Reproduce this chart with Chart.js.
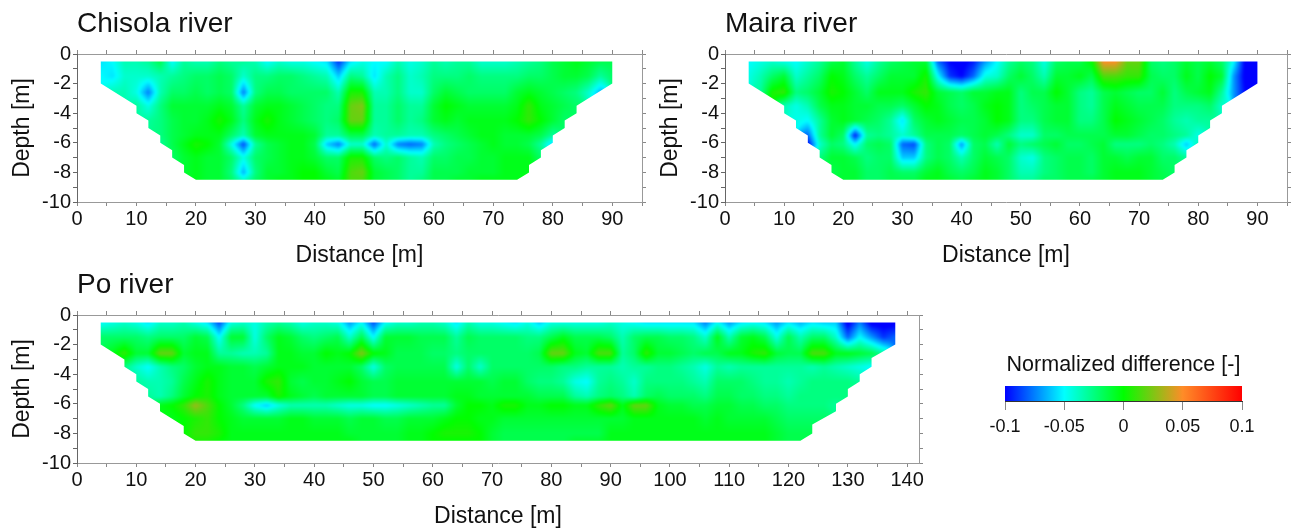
<!DOCTYPE html>
<html>
<head>
<meta charset="utf-8">
<script src="https://cdn.jsdelivr.net/npm/chart.js@4"></script>
<style>
body { margin: 0; background: #fff; width: 1292px; height: 529px; overflow: hidden; position: relative; }
canvas { position: absolute; }
</style>
</head>
<body>
<canvas id="chisola" width="647" height="268" style="left:0;top:0"></canvas>
<canvas id="maira" width="644" height="268" style="left:648px;top:0"></canvas>
<canvas id="po" width="939" height="268" style="left:0;top:261px"></canvas>
<canvas id="scale" width="332" height="110" style="left:960px;top:340px"></canvas>
<script>
const _ = null; // no measurement at this position

// depth of each data row, m
const depths = [-0.5, -1.5, -2.6, -3.5, -4.5, -5.5, -6.1, -7, -8, -8.5];

const distances90 = [4,6,8,10,12,14,16,18,20,22,24,26,28,30,32,34,36,38,40,42,44,46,48,50,52,54,56,58,60,62,64,66,68,70,72,74,76,78,80,82,84,86,88,90];
const distances138 = [4,6,8,10,12,14,16,18,20,22,24,26,28,30,32,34,36,38,40,42,44,46,48,50,52,54,56,58,60,62,64,66,68,70,72,74,76,78,80,82,84,86,88,90,92,94,96,98,100,102,104,106,108,110,112,114,116,118,120,122,124,126,128,130,132,134,136,138];

// outline of the sections (distance, depth)
const outline90X = [4,4,10,10,12,12,14,14,16,16,18,18,20,74,76,76,78,78,80,80,82,82,84,84,90,90];
const outline90Y = [-0.5,-2,-3.5,-4,-4.5,-5,-5.5,-6,-6.5,-7,-7.5,-8,-8.5,-8.5,-8,-7.5,-7,-6.5,-6,-5.5,-5,-4.5,-4,-3.5,-2,-0.5];
const outline138X = [4,4,8,8,10,10,12,12,14,14,18,18,20,122,124,124,128,128,130,130,132,132,134,134,138,138];
const outline138Y = [-0.5,-2,-3,-3.5,-4,-4.5,-5,-5.5,-6,-6.5,-7.5,-8,-8.5,-8.5,-8,-7.4,-6.5,-6,-5.5,-5,-4.5,-4,-3.5,-2.9,-2,-0.5];

// values below are in hundredths of normalized difference
const valueUnit = 0.01;

const chisolaValues = [
  [-5.5,-5,-3.5,-3.5,-3,-1.5,-5,-3,-3.5,-3.5, -2.5,-3,-3,-3.5,-5,-4,-4.5,-4.5,-5,-5.5, -9,-5.5,-4.5,-5,-5,-3.5,-4.5,-4,-3,-3.5, -3,-3,-4,-4,-4,-3.5,-3,-2.5,-1.5,-1, -0.5,-1,-1.5,-1.5],
  [-5,-5.5,-4,-4,-4,-3.5,-3,-2.5,-2,-2, -1.5,-2,-4,-2.5,-2.5,-2,-2,-2.5,-3,-3.5, -6,-2.5,-3,-5.5,-3.5,-2.5,-4,-3.5,-2.5,-2.5, -2.5,-2,-2.5,-2.5,-2.5,-2.5,-2,-2,-1.5,-1, -1,-1.5,-3,-2],
  [_,-3.5,-3.5,-4.5,-7.5,-3.5,-2,-2,-1.5,-2, -1.5,-2,-7.5,-2.5,-1.5,-1.5,-2,-2,-2,-2, -3.5,0.5,0.5,-3.5,-3.5,-2.5,-4,-4,-2,-1, -1.5,-2,-2,-2,-2,-1,-0.5,-1,-1.5,-2, -2.5,-4,-6.5,_],
  [_,_,_,-3,-4.5,-2.5,-1,-1,-1,-1, -0.5,-1,-3,-1,-0.5,-0.5,-1,-1.5,-2,-2.5, -2.5,2,2.5,-3,-3,-2,-3,-3,-1,0, -0.5,-1,-1,-1,-1,-0.5,1,-0.5,-1,-1.5, -2,_,_,_],
  [_,_,_,_,-3,-2.5,-1.5,-1,-1,-0.5, 0.5,-0.5,-2.5,-0.5,0.5,-0.5,-1,-1.5,-2,-2.5, -2,2,2,-3,-3,-2,-3,-2.5,-1,-0.5, -1,-0.5,-0.5,-0.5,-0.5,0,1,0,-1,-2, _,_,_,_],
  [_,_,_,_,_,-2.5,-1.5,-1,-0.5,-0.5, -0.5,-2,-3.5,-1,-0.5,-0.5,-0.5,-0.5,-1,-3, -3,-1.5,-1.5,-3.5,-3,-3,-3.5,-3.5,-2.5,-2, -1.5,-1,-0.5,-0.5,-1,-1,-1,-1.5,-3,_, _,_,_,_],
  [_,_,_,_,_,-3,-1.5,-0.5,0.5,0, -1,-4.5,-8.5,-3,-1.5,-1,-0.5,-0.5,-1.5,-6, -7.5,-4,-4,-8,-4,-7.5,-8,-7.5,-3.5,-2.5, -2,-1.5,-1,-0.5,-1,-1,-1.5,-3,-6,_, _,_,_,_],
  [_,_,_,_,_,_,-2,-1,-0.5,-1, -1,-2,-4.5,-2,-1.5,-1,-0.5,-0.5,-1,-2, -2,0.5,0.5,-2,-2.5,-2,-3,-3.5,-2,-2, -1.5,-1.5,-1,-1,-0.5,-0.5,-0.5,-2,_,_, _,_,_,_],
  [_,_,_,_,_,_,_,-1,-0.5,-1, -1,-2.5,-6.5,-2.5,-1,-1,-0.5,0,0,-1, -1.5,1.5,2,-1,-1.5,-2,-3,-3,-1.5,-1.5, -1.5,-1,-1,-1,-0.5,-0.5,-0.5,_,_,_, _,_,_,_],
  [_,_,_,_,_,_,_,_,-0.5,-1, -1,-2,-4,-2,-1,-0.5,-0.5,0,0,-0.5, -1,1.5,1.5,-1,-1.5,-2,-3,-2.5,-1.5,-1.5, -1,-1,-0.5,-0.5,-0.5,-0.5,_,_,_,_, _,_,_,_]
];

const mairaValues = [
  [-5,-4.5,-4,-4.5,-5,-4,-3,-1.5,-1,-3, -4.5,-3,-2,-1.5,-1,-1,-8,-10,-10.5,-9.5, -7,-5,-3,-2,-2.5,-4.5,-2,-1.5,-1.5,0, 5,5,2,2,-2,-2.5,-2,-1,-1.5,-1, -2,-5,-10.5,-10.5],
  [-4.5,-3.5,-2,-1,-4,-3,-2,0,-0.5,-2, -3,-2,-1,-1,-1,0.5,-5,-9,-10,-8, -4.5,-4,-2,-1,-2,-3.5,-1,-1,-0.5,-1.5, 1.5,1.5,1,1,-1.5,-2,-2,-0.5,-1.5,0, -1,-7,-10.5,-10.5],
  [_,-3,0.5,1,-2.5,-2,-1,0.5,0,-1, -2,-0.5,-0.5,-0.5,0.5,1,-1,-1.5,-2,-1, -1,-0.5,-0.5,-2.5,-1.5,-1.5,0,-1,-2.5,-3, -1.5,-1,-1.5,-2,-2,-1,-2.5,-1.5,-1,-0.5, -3,-7,-10,_],
  [_,_,_,-3.5,-4.5,-3.5,-1.5,-0.5,-0.5,-1, -1,-1.5,-1.5,-2,-1,0,-0.5,-1.5,-2,-1.5, -0.5,0,-0.5,-2.5,-2,-1.5,-1,-1,-2.5,-3, -1.5,-0.5,-1,-1.5,-1.5,-1.5,-2.5,-2.5,-2.5,-2, -4,_,_,_],
  [_,_,_,_,-4.5,-5,-3,-1,-0.5,-1, -1.5,-2,-3,-5.5,-2,-1,-0.5,-1,-1.5,-1.5, -1,0,-0.5,-2.5,-2.5,-1.5,-1,-1,-2.5,-2.5, -1.5,0,-0.5,-1,-1.5,-2,-3,-3.5,-3,-3, _,_,_,_],
  [_,_,_,_,_,-8,-3,-1,-2,-9.5, -3,-2.5,-3,-4,-3,-1.5,-1.5,-1.5,-2,-1.5, -1,-1.5,-2.5,-4,-4,-2,-2,-1.5,-1.5,-1.5, -1.5,-1,-1,-1.5,-2,-2,-2.5,-3,-4.5,_, _,_,_,_],
  [_,_,_,_,_,-10,-4,-2,-2.5,-5, -2,-1.5,-2,-8,-8.5,-2.5,-1.5,-2,-7,-2, -1.5,-3.5,-1,-2.5,-2,-1.5,-1,-2,-2,-1.5, -1,-2.5,-2.5,-2.5,-2,-2.5,-3.5,-6,-3.5,_, _,_,_,_],
  [_,_,_,_,_,_,-2.5,-1,-1,-1.5, -2.5,-2,-2,-6,-6,-2.5,-1.5,-2,-3.5,-2, -1,-1.5,-2,-4,-4.5,-2.5,-2,-1.5,-1.5,-2, -1,-1,-1.5,-1,-1,-2,-2,-3,_,_, _,_,_,_],
  [_,_,_,_,_,_,_,-1.5,-1,-1, -2,-2,-1.5,-2,-2,-1,-0.5,-1.5,-2,-1.5, -0.5,-1,-2,-3.5,-3.5,-2.5,-2,-1.5,-1.5,-2, -1,-0.5,-0.5,-0.5,-1,-1.5,-2,_,_,_, _,_,_,_],
  [_,_,_,_,_,_,_,_,-1,-1, -2,-2,-1.5,-1.5,-1.5,-0.5,-0.5,-1,-1.5,-1, -0.5,-1,-2,-3,-3,-2,-2,-1.5,-1.5,-1.5, -1,-0.5,-0.5,-0.5,-1,-1.5,_,_,_,_, _,_,_,_]
];

const poValues = [
  [-5,-4.5,-4,-4.5,-5.5,-4,-4,-3.5,-4.5,-5.5,
   -8.5,-4.5,-4,-4.5,-3.5,-3,-3.5,-4.5,-4,-4,
   -4.5,-7,-5,-8.5,-5,-4,-4,-3.5,-3.5,-4,
   -5.5,-3.5,-4.5,-4.5,-5,-5.5,-4.5,-6,-4.5,-4.5,
   -4.5,-4.5,-4.5,-4,-4.5,-5,-5.5,-5.5,-5.5,-5.5,
   -5.5,-7.5,-5,-7,-5.5,-5,-5.5,-7,-5.5,-6.5,
   -5.5,-6,-6,-10.5,-7.5,-10.5,-10.5,-10.5],
  [-2,-2,-2,-2,-2.5,-2,-2,-2,-1,-1.5,
   -5,-1,-1,-4.5,-2,-0.5,-1,-2,-2.5,-2,
   -1.5,-4,-1.5,-5,-1,-1,-1,-1.5,-1.5,-1.5,
   -3,-1.5,-2,-2,-2,-2,-2.5,-2.5,-1.5,-0.5,
   -1.5,-1.5,-1.5,-2,-3.5,-2,-1.5,-1.5,-2,-2,
   -2.5,-4,-0.5,-3.5,-1,-0.5,-1.5,-4.5,-1.5,-3.5,
   -2,-2,-4,-8,-5,-7,-9,-8],
  [_,-0.5,1,-1,-1,2,2,-1,-0.5,-0.5,
   -3,-3,-3.5,-3.5,-3,-0.5,-0.5,-1,-1,0,
   -0.5,0,2.5,0,-0.5,-1.5,-1.5,-1.5,-2,-2,
   -2.5,-2,-2,-2,-2,-2,-2,-1.5,2,2,
   -0.5,-1,1.5,1.5,-3,-2,1,-1,-1,-1.5,
   -2,-1.5,-1.5,-0.5,-0.5,0.5,1,-1,-1.5,-1.5,
   1.5,1.5,-0.5,-0.5,-1,-1.5,-3,_],
  [_,_,-2.5,-4,-5,-3.5,-2.5,-2,-1,-0.5,
   -0.5,-1,-1,-1.5,-1,-0.5,-0.5,-0.5,-1,-1,
   -1,-1,-2,-4.5,-2,-1.5,-1.5,-1.5,-1.5,-1.5,
   -4.5,-2,-4,-2,-2,-2,-2,-2,-2,-2.5,
   -2.5,-3,-3,-3,-3.5,-3,-3,-2.5,-2.5,-3,
   -3.5,-4.5,-3,-3.5,-3,-3,-3,-3,-3,-3,
   -3.5,-3,-3.5,-4,-4.5,-5,_,_],
  [_,_,_,-3,-3.5,-3.5,-3,-1.5,-0.5,0.5,
   -0.5,-1,-1,-1,0.5,1,-1,-1.5,-1,-1,
   -0.5,0,-1,-1.5,-1.5,-1,-1,-1,-1,-1,
   -1,-1,-1,-1.5,-1,-1,-2,-2.5,-2.5,-3,
   -4.5,-5,-3,-2.5,-3,-4,-2.5,-2.5,-2.5,-2.5,
   -3,-3.5,-2,-2,-2,-2.5,-3,-3,-3.5,-3,
   -2.5,-2.5,-2.5,-2.5,-3,_,_,_],
  [_,_,_,_,-3,-3.5,-2.5,-1,0,0.5,
   -0.5,-1,-1,-1,-1,0.5,-0.5,-1,-1.5,-1,
   -1,-1,-1,-1.5,-1.5,-1,-1,-1,-1,-1,
   -0.5,-0.5,-1,-1,-1,-1,-1,-1.5,-1.5,-1.5,
   -3,-3.5,-2.5,-2,-2.5,-3.5,-2,-1.5,-2,-2,
   -2,-2.5,-1.5,-1.5,-2,-2,-2.5,-2.5,-3,-2.5,
   -2.5,-2.5,-2.5,-2.5,_,_,_,_],
  [_,_,_,_,_,-0.5,0,1,3,1.5,
   0,-1,-2.5,-5,-6,-4.5,-3.5,-3.5,-3.5,-3.5,
   -4,-4.5,-4.5,-5,-5,-4.5,-4,-3.5,-3,-3,
   -1,0,0,-0.5,0.5,0.5,-0.5,-0.5,0,0,
   -0.5,-0.5,1,2,-0.5,2,2,-0.5,-1,-1,
   -1.5,-1.5,-1,-1,-1.5,-1.5,-2,-2,-2.5,-2.5,
   -2.5,-2.5,-3,_,_,_,_,_],
  [_,_,_,_,_,_,-0.5,0,0.5,1,
   0,-0.5,-1,-1,-1,-1,-0.5,-0.5,-1,-1,
   -1,-1.5,-1,-1,-1.5,-1.5,-1,-1,-1,-0.5,
   0,0,-0.5,-0.5,-1,-1,-1,-1,-1,-1,
   -1,-1,-1,-1,-1,-0.5,-0.5,-0.5,-0.5,-0.5,
   -0.5,-1,-0.5,-1,-1,-1,-1,-1.5,-2,-2,
   -2,-2,_,_,_,_,_,_],
  [_,_,_,_,_,_,_,0,1,1,
   0.5,-0.5,-0.5,-0.5,-0.5,-0.5,-0.5,-0.5,-0.5,-0.5,
   -0.5,-1,-1,-1,-1,-1,-0.5,-0.5,0,0.5,
   0.5,0.5,0,-1,-1.5,-1.5,-1.5,-1.5,-1.5,-1.5,
   -1.5,-1.5,-1.5,-0.5,-0.5,-0.5,-0.5,-0.5,-0.5,-0.5,
   -0.5,-0.5,-0.5,-0.5,-0.5,-0.5,-0.5,-1,-1.5,-1.5,
   -1.5,_,_,_,_,_,_,_],
  [_,_,_,_,_,_,_,_,0.5,0.5,
   0,-0.5,-0.5,-0.5,-0.5,-0.5,-0.5,-0.5,-0.5,-0.5,
   -0.5,-0.5,-1,-1,-1,-1,-0.5,-0.5,0,0,
   0,0,0,-1,-1.5,-1.5,-1.5,-1.5,-1.5,-1.5,
   -1,-1,-1,-0.5,-0.5,-0.5,-0.5,-0.5,-0.5,-0.5,
   -0.5,-0.5,-0.5,-0.5,-0.5,-0.5,-0.5,-1,-1.5,-1.5,
   _,_,_,_,_,_,_,_]
];

// colour bar
const colorValues = [-0.1, -0.05, 0, 0.05, 0.1];
const colorStops = [[0,0,255], [0,255,255], [0,255,0], [255,140,40], [255,0,0]];
const scaleLabels = ['-0.1', '-0.05', '0', '0.05', '0.1'];

const fontFamily = '"Liberation Sans", Arial, sans-serif';
const textColor = '#111';
Chart.defaults.font.family = fontFamily;
Chart.defaults.color = textColor;
Chart.defaults.animation = false;

function colorFor(v) {
    if (v <= colorValues[0]) return colorStops[0];
    for (let i = 1; i < colorValues.length; i++) {
        if (v <= colorValues[i]) {
            const t = (v - colorValues[i - 1]) / (colorValues[i] - colorValues[i - 1]);
            const a = colorStops[i - 1], b = colorStops[i];
            return [a[0] + (b[0] - a[0]) * t, a[1] + (b[1] - a[1]) * t, a[2] + (b[2] - a[2]) * t];
        }
    }
    return colorStops[colorStops.length - 1];
}

function findCell(list, v) {
    // list may run up or down, returns lower index and fraction
    const up = list[1] > list[0];
    for (let i = 0; i < list.length - 1; i++) {
        const hit = up ? v <= list[i + 1] : v >= list[i + 1];
        if (hit) return [i, (v - list[i]) / (list[i + 1] - list[i])];
    }
    return [list.length - 2, 1];
}

// paints the section from its data through the chart's scales
const sectionPlugin = {
    id: 'section',
    beforeDatasetsDraw(chart, args, opts) {
        const { xs, rows, outlineX, outlineY } = opts;
        const area = chart.chartArea;
        const sx = chart.scales.x, sy = chart.scales.y;
        const w = Math.ceil(area.width), h = Math.ceil(area.height);
        const off = document.createElement('canvas');
        off.width = w; off.height = h;
        const octx = off.getContext('2d');
        const img = octx.createImageData(w, h);
        for (let py = 0; py < h; py++) {
            const d = sy.getValueForPixel(area.top + py + 0.5);
            const [r, fr] = findCell(depths, d);
            for (let px = 0; px < w; px++) {
                const x = sx.getValueForPixel(area.left + px + 0.5);
                const [c, fc] = findCell(xs, x);
                const corners = [
                    [rows[r][c], (1 - fr) * (1 - fc)], [rows[r][c + 1], (1 - fr) * fc],
                    [rows[r + 1][c], fr * (1 - fc)], [rows[r + 1][c + 1], fr * fc]
                ];
                let sum = 0, wsum = 0;
                corners.forEach(([v, wt]) => { if (v !== null) { sum += v * wt; wsum += wt; } });
                if (wsum <= 0) continue;
                const col = colorFor(sum / wsum * valueUnit);
                const k = (py * w + px) * 4;
                img.data[k] = col[0]; img.data[k + 1] = col[1]; img.data[k + 2] = col[2]; img.data[k + 3] = 255;
            }
        }
        octx.putImageData(img, 0, 0);
        const ctx = chart.ctx;
        ctx.save();
        ctx.beginPath();
        outlineX.forEach((x, i) => {
            const px = sx.getPixelForValue(x), py = sy.getPixelForValue(outlineY[i]);
            if (i === 0) ctx.moveTo(px, py); else ctx.lineTo(px, py);
        });
        ctx.closePath();
        ctx.clip();
        ctx.filter = 'blur(0.8px)'; // the source picture is a soft scan
        ctx.drawImage(off, area.left, area.top);
        ctx.restore();
    }
};

function tickGrid(color) {
    return { drawOnChartArea: false, drawTicks: true, tickLength: 4, tickColor: color, color: color };
}

function makeSection(id, title, xs, rows, outlineX, outlineY, xMax, rightGap) {
    const points = [];
    rows.forEach((row, r) => row.forEach((v, c) => {
        if (v !== null) points.push({ x: xs[c], y: depths[r], v: v * valueUnit });
    }));
    return new Chart(document.getElementById(id), {
        type: 'scatter',
        data: { datasets: [{ data: points, pointRadius: 0, showLine: false }] },
        plugins: [sectionPlugin],
        options: {
            responsive: false,
            layout: { padding: 0 },
            plugins: {
                legend: { display: false },
                tooltip: { enabled: false },
                section: { xs, rows, outlineX, outlineY },
                title: {
                    display: true, text: title, align: 'start', fullSize: false,
                    font: { size: 28, weight: 'normal', lineHeight: 1.2 },
                    color: textColor, padding: { top: 7, bottom: 9.4 }
                }
            },
            scales: {
                x: {
                    type: 'linear', position: 'bottom', min: 0, max: xMax,
                    afterFit: s => { s.height = 66; },
                    border: { color: '#999' }, grid: tickGrid('#888'),
                    ticks: {
                        stepSize: 5, includeBounds: false, autoSkip: false, maxRotation: 0, padding: 1,
                        font: { size: 20 }, callback: v => v % 10 === 0 ? String(v) : ''
                    },
                    title: { display: true, text: 'Distance [m]', font: { size: 23 }, color: textColor, padding: { top: 0, bottom: -1.5 } }
                },
                x2: {
                    type: 'linear', position: 'top', min: 0, max: xMax,
                    afterFit: s => { s.height = 4; },
                    border: { color: '#999' }, grid: tickGrid('#888'),
                    ticks: { display: false, stepSize: 5, includeBounds: false }
                },
                y: {
                    type: 'linear', position: 'left', min: -10, max: 0,
                    afterFit: s => { s.width = 77; },
                    border: { color: '#666' }, grid: tickGrid('#666'),
                    ticks: {
                        stepSize: 1, autoSkip: false, padding: 2,
                        font: { size: 20 }, callback: v => v % 2 === 0 ? String(v) : ''
                    },
                    title: { display: true, text: 'Depth [m]', font: { size: 23 }, color: textColor, padding: { top: 9, bottom: 0 } }
                },
                y2: {
                    type: 'linear', position: 'right', min: -10, max: 0,
                    afterFit: s => { s.width = rightGap; },
                    border: { color: '#999' }, grid: tickGrid('#888'),
                    ticks: { display: false, stepSize: 1 }
                }
            }
        }
    });
}

makeSection('chisola', 'Chisola river', distances90, chisolaValues, outline90X, outline90Y, 95, 5);
makeSection('maira', 'Maira river', distances90, mairaValues, outline90X, outline90Y, 95, 5);
makeSection('po', 'Po river', distances138, poValues, outline138X, outline138Y, 142, 20);

new Chart(document.getElementById('scale'), {
    type: 'bar',
    data: {
        labels: [''],
        datasets: [{
            data: [[colorValues[0], colorValues[colorValues.length - 1]]],
            barPercentage: 1, categoryPercentage: 1,
            backgroundColor: ctx => {
                const area = ctx.chart.chartArea;
                if (!area) return '#0f0';
                const sx = ctx.chart.scales.x;
                const g = ctx.chart.ctx.createLinearGradient(area.left, 0, area.right, 0);
                colorValues.forEach((v, i) => {
                    const c = colorStops[i];
                    g.addColorStop((sx.getPixelForValue(v) - area.left) / area.width, `rgb(${c[0]},${c[1]},${c[2]})`);
                });
                return g;
            }
        }]
    },
    options: {
        responsive: false,
        indexAxis: 'y',
        layout: { padding: { left: 45, right: 50 } },
        plugins: {
            legend: { display: false },
            tooltip: { enabled: false },
            title: {
                display: true, text: 'Normalized difference [-]', fullSize: false,
                font: { size: 21.5, weight: 'normal', lineHeight: 1.2 },
                color: textColor, padding: { top: 12, bottom: 8.2 }
            }
        },
        scales: {
            x: {
                type: 'linear', min: colorValues[0], max: colorValues[colorValues.length - 1],
                afterFit: s => { s.height = 49; },
                border: { color: '#333' },
                grid: { drawOnChartArea: false, tickLength: 9, tickColor: '#888' },
                ticks: {
                    stepSize: 0.05, autoSkip: false, maxRotation: 0, padding: 6, font: { size: 18 },
                    callback: (v, i) => scaleLabels[i]
                }
            },
            y: { display: false }
        }
    }
});
</script>
</body>
</html>
